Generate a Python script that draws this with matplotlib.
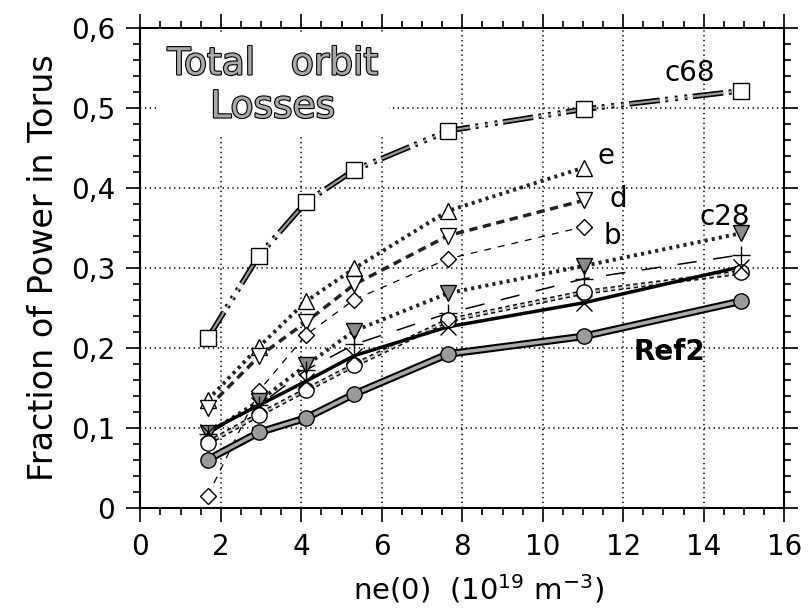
import matplotlib.pyplot as plt
import matplotlib.patheffects as pe

plt.rcParams['font.family'] = 'DejaVu Sans'
plt.rcParams['lines.scale_dashes'] = False

# density points (10^19 m^-3)
ne = [1.68, 2.95, 4.12, 5.32, 7.65, 11.02, 14.93]
ne6 = ne[:6]

c68 = [0.212, 0.315, 0.382, 0.422, 0.471, 0.498, 0.521]
e_vals = [0.135, 0.201, 0.258, 0.299, 0.371, 0.425]
d_vals = [0.125, 0.189, 0.232, 0.279, 0.340, 0.384]
b_vals = [0.015, 0.146, 0.216, 0.260, 0.311, 0.351]
c28 = [0.093, 0.133, 0.178, 0.221, 0.268, 0.302, 0.343]
plus_vals = [0.092, 0.128, 0.172, 0.204, 0.243, 0.286, 0.316]
circ_vals = [0.081, 0.116, 0.147, 0.178, 0.234, 0.269, 0.294]
cross_vals = [0.095, 0.128, 0.158, 0.190, 0.226, 0.256, 0.301]
ref2 = [0.060, 0.094, 0.112, 0.142, 0.192, 0.214, 0.258]

xticks = [0, 2, 4, 6, 8, 10, 12, 14, 16]
yticks = [0, 0.1, 0.2, 0.3, 0.4, 0.5, 0.6]
ytick_labels = ['0', '0,1', '0,2', '0,3', '0,4', '0,5', '0,6']

fig = plt.figure(figsize=(8.11, 6.13), dpi=100)
ax = fig.add_axes([0.173, 0.172, 0.794, 0.783])

outline = [pe.Stroke(linewidth=4, foreground='black'), pe.Normal()]

# c68 - open squares, long dash + dots
ax.plot(ne, c68, color='#999999', lw=1.6, dashes=(22, 4, 2, 5, 2, 5, 2, 4),
        path_effects=outline, zorder=3)
ax.plot(ne, c68, ls='none', marker='s', ms=12, mfc='white', mec='black', mew=1, zorder=5)

# e - open up triangles, dotted
ax.plot(ne6, e_vals, color='#222222', lw=2.8, dashes=(2.2, 3), zorder=3)
ax.plot(ne6, e_vals, ls='none', marker='^', ms=11, mfc='white', mec='black', mew=1, zorder=5)

# d - open down triangles, dashed
ax.plot(ne6, d_vals, color='#222222', lw=2.5, dashes=(6, 4), zorder=3)
ax.plot(ne6, d_vals, ls='none', marker='v', ms=11, mfc='white', mec='black', mew=1, zorder=5)

# b - open diamonds, thin dashed
ax.plot(ne6, b_vals, color='black', lw=0.9, dashes=(5, 5), zorder=3)
ax.plot(ne6, b_vals, ls='none', marker='D', ms=8, mfc='white', mec='black', mew=1, zorder=5)

# c28 - filled down triangles, dotted
ax.plot(ne, c28, color='#222222', lw=2.8, dashes=(2.2, 3), zorder=3)
ax.plot(ne, c28, ls='none', marker='v', ms=11, mfc='#8a8a8a', mec='black', mew=1, zorder=5)

# plus - long dashes
ax.plot(ne, plus_vals, color='black', lw=1.1, dashes=(14, 12), zorder=3)
ax.plot(ne, plus_vals, ls='none', marker='+', ms=13, mec='black', mew=1, zorder=5)

# open circles - square dotted line
ax.plot(ne, circ_vals, color='#bbbbbb', lw=1.5, dashes=(3, 2.5),
        path_effects=[pe.Stroke(linewidth=3.5, foreground='black'), pe.Normal()], zorder=3)
ax.plot(ne, circ_vals, ls='none', marker='o', ms=11, mfc='white', mec='black', mew=1, zorder=5)

# crosses - solid
ax.plot(ne, cross_vals, color='black', lw=2.5, zorder=3)
ax.plot(ne, cross_vals, ls='none', marker='x', ms=11, mec='black', mew=1, zorder=5)

# Ref2 - filled circles, double line
ax.plot(ne, ref2, color='#aaaaaa', lw=2.5,
        path_effects=[pe.Stroke(linewidth=5.5, foreground='black'), pe.Normal()], zorder=3)
ax.plot(ne, ref2, ls='none', marker='o', ms=11, mfc='#9a9a9a', mec='black', mew=1, zorder=5)

ax.set_xlim(0, 16)
ax.set_ylim(0, 0.6)
ax.set_xticks(xticks)
ax.set_xticks([i * 0.5 for i in range(33)], minor=True)
ax.set_yticks(yticks)
ax.set_yticklabels(ytick_labels)
ax.set_yticks([i * 0.02 for i in range(31)], minor=True)
ax.tick_params(which='both', direction='out', top=True, right=True, width=1.2,
               labelsize=20, pad=8)
ax.tick_params(which='major', length=10)
ax.tick_params(which='minor', length=5)
for s in ax.spines.values():
    s.set_linewidth(1.5)

ax.grid(True, which='major', color='black', lw=1.1, ls=(0, (1, 2.5)))
ax.set_axisbelow(True)

ax.set_xlabel('ne(0)  (10$^{19}$ m$^{-3}$)', fontsize=21)
ax.xaxis.set_label_coords(0.525, -0.135)
ax.set_ylabel('Fraction of Power in Torus', fontsize=24, labelpad=8)

title = ax.text(3.29, 0.527, 'Total   orbit\nLosses', fontsize=27, ha='center', va='center',
                color='#a8a8a8', linespacing=1.25, zorder=4,
                bbox=dict(boxstyle='square,pad=0.3', fc='white', ec='none'))
title.set_path_effects([pe.Stroke(linewidth=1.6, foreground='black'), pe.Normal()])

ax.text(13.64, 0.543, 'c68', fontsize=20, ha='center', va='center', zorder=6)
ax.text(11.56, 0.44, 'e', fontsize=20, ha='center', va='center', zorder=6)
ax.text(11.88, 0.386, 'd', fontsize=20, ha='center', va='center', zorder=6)
ax.text(11.72, 0.340, 'b', fontsize=20, ha='center', va='center', zorder=6)
ax.text(14.53, 0.363, 'c28', fontsize=20, ha='center', va='center', zorder=6)
ax.text(13.15, 0.194, 'Ref2', fontsize=20, fontweight='bold', ha='center', va='center', zorder=6)

fig.savefig('out.png', dpi=100)
